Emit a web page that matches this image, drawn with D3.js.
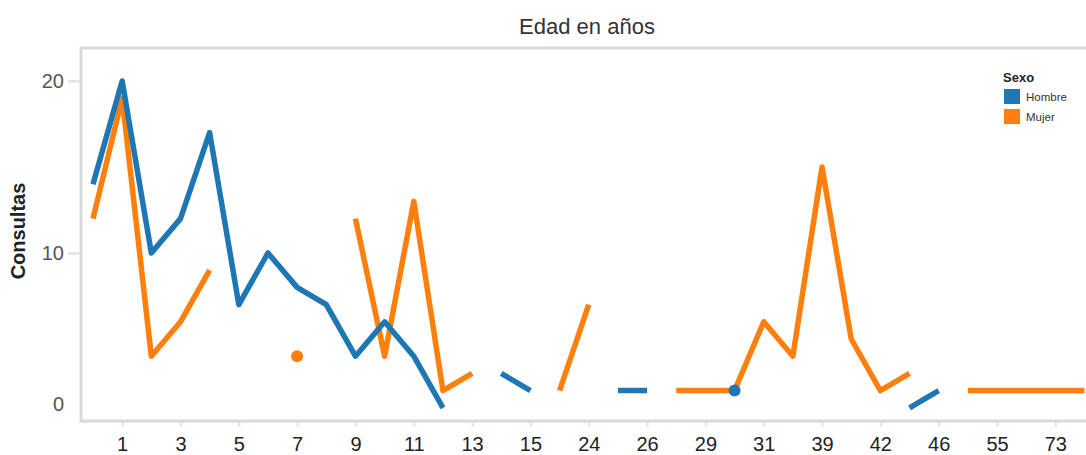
<!DOCTYPE html>
<html>
<head>
<meta charset="utf-8">
<script src="https://cdn.jsdelivr.net/npm/d3@7"></script>
<style>
  html, body { margin: 0; padding: 0; background: #fff; overflow: hidden; }
  svg { display: block; font-family: "Liberation Sans", Arial, sans-serif; }
</style>
</head>
<body>
<svg id="chart" width="1086" height="455"></svg>
<script>
// Age groups (years) along the x axis
const ages = ["0","1","2","3","4","5","6","7","8","9","10","11","12","13","14","15",
  "18","24","25","26","27","29","30","31","35","39","40","42","44","46","50","55","60","73","80"];

// Number of consultations per age, by sex (null = no records)
const hombre = [14,20,10,12,17,7,10,8,7,4,6,4,1,null,3,2,null,null,2,2,null,null,2,
  null,null,null,null,null,1,2,null,null,null,null,null];
const mujer = [12,19,4,6,9,null,null,4,null,12,4,13,2,3,null,null,2,7,null,null,2,2,2,
  6,4,15,5,2,3,null,2,2,2,2,2];

const yTicks = [0, 10, 20];
const seriesNames = ["Hombre", "Mujer"];
const colors = ["#1f77b4", "#ff7f0e"];

const svg = d3.select("#chart");
const plot = { left: 81, top: 48, right: 1086, bottom: 421 };

const x = d3.scalePoint().domain(ages).range([93, 1084.5]);
const y = d3.scaleLinear().domain([0, 20]).range([425, 81]);

// soft edges on the lines
const defs = svg.append("defs");
defs.append("filter").attr("id", "soft")
  .attr("x", "-5%").attr("y", "-5%").attr("width", "110%").attr("height", "110%")
  .append("feGaussianBlur").attr("stdDeviation", 0.7);

// Title
svg.append("text")
  .attr("x", 587).attr("y", 34)
  .attr("text-anchor", "middle")
  .attr("font-size", 22)
  .attr("fill", "#333")
  .text("Edad en años");

// Pane borders
const border = svg.append("g").attr("stroke", "#d9d9d9").attr("fill", "none");
border.append("line").attr("x1", plot.left).attr("x2", plot.right)
  .attr("y1", plot.top).attr("y2", plot.top).attr("stroke-width", 3);
border.append("line").attr("x1", plot.left).attr("x2", plot.left)
  .attr("y1", plot.top - 1.5).attr("y2", plot.bottom + 1.5).attr("stroke-width", 3);
border.append("line").attr("x1", plot.left).attr("x2", plot.right)
  .attr("y1", plot.bottom).attr("y2", plot.bottom).attr("stroke-width", 3);

// Y axis
const yAxis = svg.append("g")
  .attr("transform", `translate(${plot.left - 1},0)`)
  .call(d3.axisLeft(y).tickValues(yTicks).tickSize(12).tickPadding(4).tickFormat(d3.format("d")));
yAxis.select(".domain").remove();
yAxis.selectAll(".tick").each(function (d) {
  const g = d3.select(this);
  const yy = y(d);
  if (yy > plot.bottom - 16) {
    // keep the bottom label inside the pane
    g.attr("transform", `translate(0,${plot.bottom - 16})`);
    g.select("line").remove();
  }
});
yAxis.selectAll(".tick line").attr("stroke", "#e6e6e6").attr("stroke-width", 3);
yAxis.selectAll(".tick text").attr("font-size", 20).attr("fill", "#555")
  .attr("font-family", "'Liberation Sans', Arial, sans-serif");

// Y axis title
svg.append("text")
  .attr("transform", "translate(25,231) rotate(-90)")
  .attr("text-anchor", "middle")
  .attr("font-size", 20)
  .attr("font-weight", "bold")
  .attr("fill", "#222")
  .text("Consultas");

// X axis: every other age is labelled
const xAxis = svg.append("g")
  .attr("transform", `translate(0,${plot.bottom + 1})`)
  .call(d3.axisBottom(x)
    .tickValues(ages.filter((d, i) => i % 2 === 1))
    .tickSize(5).tickPadding(10));
xAxis.select(".domain").remove();
xAxis.selectAll(".tick line").attr("stroke", "#e3e3e3").attr("stroke-width", 2);
xAxis.selectAll(".tick text").attr("font-size", 20).attr("fill", "#222")
  .attr("font-family", "'Liberation Sans', Arial, sans-serif");

// Series lines (Mujer underneath, Hombre on top)
const series = [mujer, hombre].map((vals, k) => ({
  name: k === 0 ? seriesNames[1] : seriesNames[0],
  color: k === 0 ? colors[1] : colors[0],
  points: vals.map((v, i) => ({ age: ages[i], v }))
}));

const line = d3.line()
  .defined(d => d.v != null)
  .x(d => x(d.age))
  .y(d => y(d.v));

const marks = svg.append("g").attr("filter", "url(#soft)");
series.forEach(s => {
  marks.append("path")
    .datum(s.points)
    .attr("fill", "none")
    .attr("stroke", s.color)
    .attr("stroke-width", 5.5)
    .attr("stroke-linejoin", "round")
    .attr("stroke-linecap", "butt")
    .attr("d", line);
  // isolated values shown as dots
  const lone = s.points.filter((p, i, a) =>
    p.v != null && (i === 0 || a[i - 1].v == null) && (i === a.length - 1 || a[i + 1].v == null));
  marks.selectAll(null).data(lone).enter().append("circle")
    .attr("cx", d => x(d.age))
    .attr("cy", d => y(d.v))
    .attr("r", 6)
    .attr("fill", s.color);
});

// Legend
const legend = svg.append("g").attr("transform", "translate(1003,0)");
legend.append("text").attr("x", 0).attr("y", 82)
  .attr("font-size", 13).attr("font-weight", "bold").attr("fill", "#222")
  .text("Sexo");
seriesNames.forEach((name, i) => {
  legend.append("rect")
    .attr("x", 1).attr("y", 89 + i * 20)
    .attr("width", 16).attr("height", 15)
    .attr("fill", colors[i]);
  legend.append("text")
    .attr("x", 23).attr("y", 101 + i * 20)
    .attr("font-size", 11.5).attr("fill", "#333")
    .text(name);
});
</script>
</body>
</html>
